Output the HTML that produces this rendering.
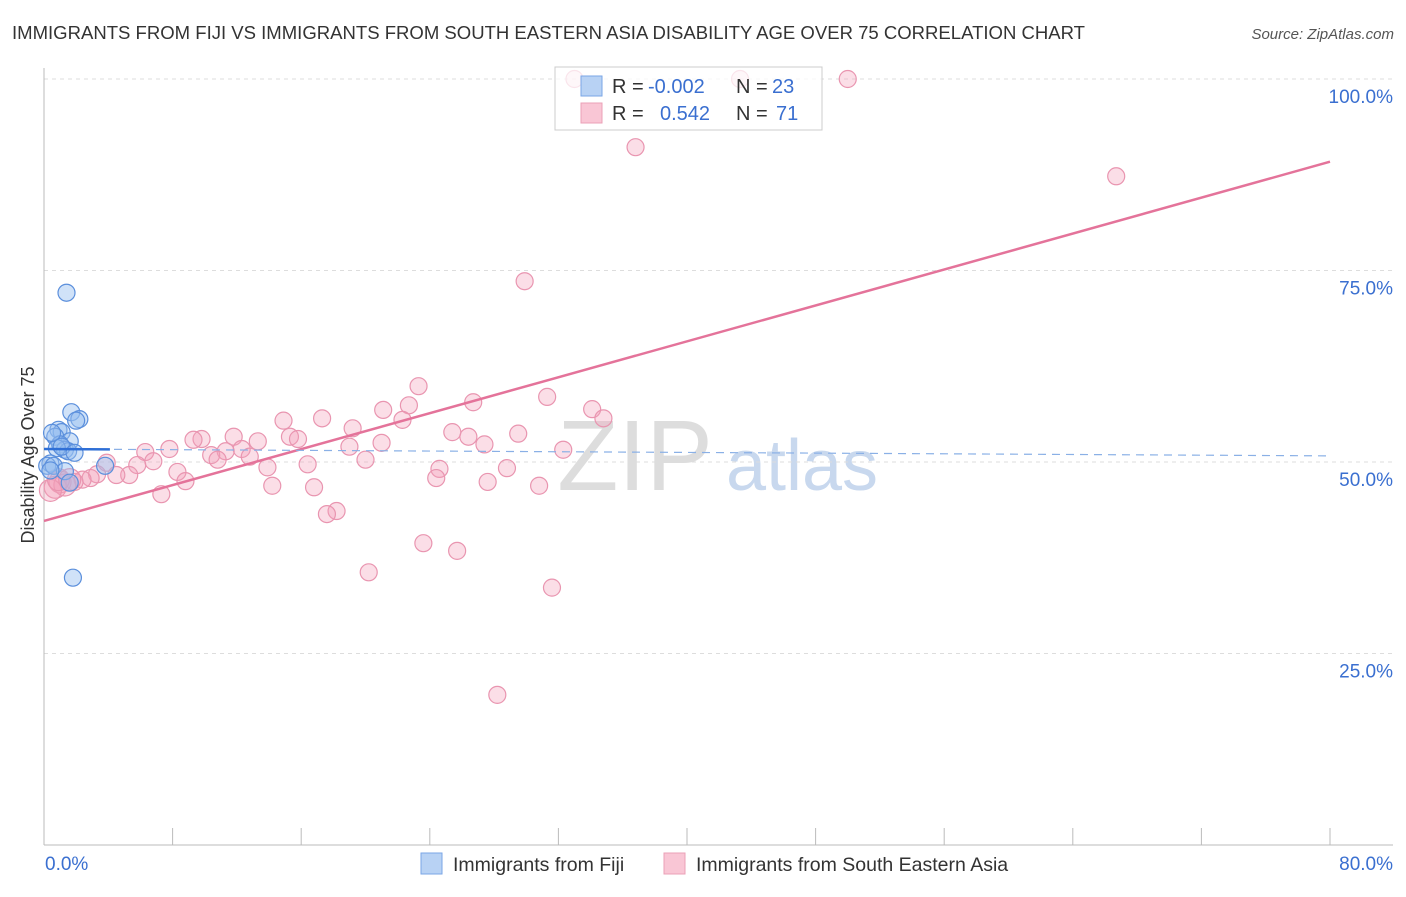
<!DOCTYPE html>
<html><head><meta charset="utf-8"><style>
body{margin:0;background:#fff;font-family:"Liberation Sans",sans-serif;}
svg text{font-family:"Liberation Sans",sans-serif;}
</style></head><body>
<svg id="chart" width="1406" height="892" xmlns="http://www.w3.org/2000/svg">
<text x="12" y="39" font-size="18" fill="#333" textLength="1073" lengthAdjust="spacingAndGlyphs">IMMIGRANTS FROM FIJI VS IMMIGRANTS FROM SOUTH EASTERN ASIA DISABILITY AGE OVER 75 CORRELATION CHART</text>
<text x="1394" y="39" font-size="15" fill="#555" text-anchor="end" font-style="italic">Source: ZipAtlas.com</text>
<text transform="translate(34,455) rotate(-90)" font-size="18" fill="#333" text-anchor="middle">Disability Age Over 75</text>
<g><text x="635" y="490" font-size="100" fill="#ddd" text-anchor="middle" font-family="Liberation Serif">ZIP</text><text x="802" y="490" font-size="72" fill="#c8d8ee" text-anchor="middle">atlas</text></g>
<g id="grid"></g><g id="axes"></g><g id="pts"></g><g id="lines"></g>
<g>
<rect x="555" y="67" width="267" height="63" fill="#fff" fill-opacity="0.75" stroke="#ccc"/>
<rect x="581" y="76" width="21" height="20" fill="#b8d2f4" stroke="#7aa6e6"/>
<rect x="581" y="103" width="21" height="20" fill="#f9c6d5" stroke="#eba0b7"/>
<text x="612" y="93" font-size="20" fill="#333">R =</text>
<text x="648" y="93" font-size="20" fill="#3a6fd0">-0.002</text>
<text x="736" y="93" font-size="20" fill="#333">N =</text>
<text x="772" y="93" font-size="20" fill="#3a6fd0">23</text>
<text x="612" y="120" font-size="20" fill="#333">R =</text>
<text x="660" y="120" font-size="20" fill="#3a6fd0">0.542</text>
<text x="736" y="120" font-size="20" fill="#333">N =</text>
<text x="776" y="120" font-size="20" fill="#3a6fd0">71</text>
</g>
<g>
<rect x="421" y="853" width="21" height="21" fill="#b8d2f4" stroke="#7aa6e6"/>
<text x="453" y="871" font-size="19.5" fill="#333">Immigrants from Fiji</text>
<rect x="664" y="853" width="21" height="21" fill="#f9c6d5" stroke="#eba0b7"/>
<text x="696" y="871" font-size="19.5" fill="#333">Immigrants from South Eastern Asia</text>
</g>
</svg>
<script>
const yTicks=[25,50,75,100];
const yTickLabels=["25.0%","50.0%","75.0%","100.0%"];
const fijiX=[1.4,1.7,2.2,2.0,0.9,1.1,0.7,1.6,1.0,1.3,1.5,0.8,0.4,0.2,0.6,1.3,3.8,1.6,1.8,0.5,1.1,0.4,1.9];
const fijiY=[72.1,56.5,55.6,55.4,54.2,53.9,53.3,52.7,52.3,51.6,51.4,51.8,49.8,49.5,49.5,48.8,49.5,47.3,34.9,53.8,52.0,48.9,51.2];
const seaX=[33,43.3,50,36.8,66.7,29.9,23.3,31.3,26.7,21.1,22.7,34.1,34.8,17.3,14.9,22.3,19.2,25.4,29.5,15.3,15.8,11.8,9.8,9.3,13.3,26.4,27.4,21.0,19.0,6.3,7.8,12.3,11.3,10.4,12.8,6.8,10.8,20.0,32.3,16.4,5.8,3.9,13.9,28.8,24.6,8.3,5.3,4.5,3.3,2.9,2.4,1.9,24.4,8.8,27.6,30.8,14.2,16.8,1.0,0.7,1.3,7.3,18.2,17.6,23.6,25.7,20.2,31.6,28.2,0.4,0.9,1.6];
const seaY=[100,100,100,91.1,87.3,73.6,59.9,58.5,57.8,56.8,57.4,56.9,55.7,55.7,55.4,55.5,54.4,53.9,53.7,53.3,53.0,53.3,53.0,52.9,52.7,53.3,52.3,52.5,52.0,51.3,51.7,51.7,51.4,50.9,50.7,50.1,50.3,50.3,51.6,49.7,49.6,49.9,49.3,49.2,49.1,48.7,48.3,48.3,48.4,47.9,47.7,47.4,47.9,47.5,47.4,46.9,46.9,46.7,47.4,46.7,47.0,45.8,43.6,43.2,39.4,38.4,35.6,33.6,19.6,46.3,47.7,47.7];
const seaLine=[42.3,89.2];
const fijiLine=[51.7,50.8];
const X=v=>44+v/80*1286, Y=v=>845-v/100*766;
const NS="http://www.w3.org/2000/svg";
function mk(p,t,a){const e=document.createElementNS(NS,t);for(const k in a)e.setAttribute(k,a[k]);document.getElementById(p).appendChild(e);return e;}
yTicks.forEach((t,i)=>{
 const g=mk('grid','line',{x1:44,x2:1393,y1:Y(t),y2:Y(t),stroke:'#ddd','stroke-dasharray':'4,4'});
 
 
 const l=mk('grid','text',{x:1393,y:Y(t)+24,'font-size':19,fill:'#3a6fd0','text-anchor':'end'});
 l.textContent=yTickLabels[i];
 
 
});
const ax=mk('axes','line',{x1:44,x2:44,y1:68,y2:845,stroke:'#bbb'});


const bx=mk('axes','line',{x1:44,x2:1393,y1:845,y2:845,stroke:'#bbb'});


for(let i=0;i<=10;i++){const t=mk('axes','line',{x1:X(i*8),x2:X(i*8),y1:828,y2:845,stroke:'#bbb'});
 
 }
const xl0=mk('axes','text',{x:45,y:870,'font-size':19,fill:'#3a6fd0'});xl0.textContent="0.0%";


const xl1=mk('axes','text',{x:1393,y:870,'font-size':19,fill:'#3a6fd0','text-anchor':'end'});xl1.textContent="80.0%";


seaX.forEach((x,i)=>{const c=mk('pts','circle',{cx:X(x),cy:Y(seaY[i]),r:(x<1.7?11:8.5),fill:'rgba(244,160,185,0.35)',stroke:'#e995b0','stroke-width':1.2});
 
 });
fijiX.forEach((x,i)=>{const c=mk('pts','circle',{cx:X(x),cy:Y(fijiY[i]),r:8.5,fill:'rgba(150,190,240,0.45)',stroke:'#5b8fdc','stroke-width':1.2});
 
 });
const sl=mk('lines','line',{x1:X(0),x2:X(80),y1:Y(seaLine[0]),y2:Y(seaLine[1]),stroke:'#e4739a','stroke-width':2.5});


const fd=mk('lines','line',{x1:X(0),x2:X(80),y1:Y(fijiLine[0]),y2:Y(fijiLine[1]),stroke:'#8ab0e6','stroke-width':1.2,'stroke-dasharray':'8,6'});


const fs=mk('lines','line',{x1:X(0),x2:X(4.1),y1:Y(fijiLine[0]),y2:Y(fijiLine[0]+(fijiLine[1]-fijiLine[0])*4.1/80),stroke:'#2f6fd6','stroke-width':2.5});


</script>
</body></html>
